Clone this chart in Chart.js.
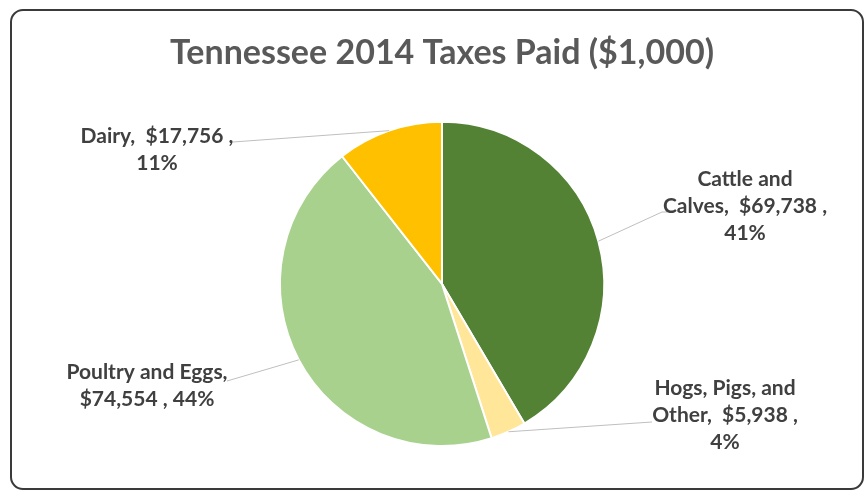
<!DOCTYPE html>
<html>
<head>
<meta charset="utf-8">
<script src="https://cdn.jsdelivr.net/npm/chart.js@4.4.1/dist/chart.umd.min.js"></script>
<style>
  html, body { margin: 0; padding: 0; background: #fff; }
  #wrap { width: 865px; height: 490px; }
</style>
</head>
<body>
<div id="wrap"><canvas id="taxes" width="865" height="490"></canvas></div>
<script>
// Tennessee 2014 farm taxes paid, in $1,000
const categories = ['Cattle and Calves', 'Hogs, Pigs, and Other', 'Poultry and Eggs', 'Dairy'];
const taxesPaid = [69738, 5938, 74554, 17756];
const percentLabels = ['41%', '4%', '44%', '11%'];
const sliceColors = ['#548235', '#FFE699', '#A9D18E', '#FFC000'];

const fmt = v => '$' + v.toLocaleString('en-US');

// how each callout wraps, where its text sits and where the leader bends
const callouts = [
  { lines: i => ['Cattle and', 'Calves,  ' + fmt(taxesPaid[i]) + ' ,', percentLabels[i]],
    x: 745, y: 179, path: [[662, 212], [667, 212]] },
  { lines: i => ['Hogs, Pigs, and', 'Other,  ' + fmt(taxesPaid[i]) + ' ,', percentLabels[i]],
    x: 725, y: 388, path: [[652, 422]] },
  { lines: i => ['Poultry and Eggs,', fmt(taxesPaid[i]) + ' , ' + percentLabels[i]],
    x: 147, y: 372, path: [[227, 381]] },
  { lines: i => ['Dairy,  ' + fmt(taxesPaid[i]) + ' ,', percentLabels[i]],
    x: 157, y: 136, path: [[233, 142]] }
];
const lineStep = 27;

const frame = {
  id: 'frame',
  beforeDraw(chart) {
    const ctx = chart.ctx;
    ctx.save();
    ctx.strokeStyle = '#3a3a3a';
    ctx.lineWidth = 2;
    ctx.beginPath();
    ctx.roundRect(11, 10, 852, 479, 12);
    ctx.stroke();
    ctx.restore();
  }
};

const calloutLabels = {
  id: 'calloutLabels',
  afterDatasetsDraw(chart) {
    const ctx = chart.ctx;
    const meta = chart.getDatasetMeta(0);
    ctx.save();
    meta.data.forEach((arc, i) => {
      const c = callouts[i];
      const p = arc.getProps(['x', 'y', 'startAngle', 'endAngle', 'outerRadius'], true);
      const mid = (p.startAngle + p.endAngle) / 2;
      const ax = p.x + Math.cos(mid) * p.outerRadius;
      const ay = p.y + Math.sin(mid) * p.outerRadius;
      ctx.strokeStyle = '#bfbfbf';
      ctx.lineWidth = 1;
      ctx.beginPath();
      ctx.moveTo(ax, ay);
      c.path.forEach(pt => ctx.lineTo(pt[0], pt[1]));
      ctx.stroke();

      ctx.fillStyle = '#404040';
      ctx.font = 'bold 21px Lato';
      ctx.textAlign = 'center';
      ctx.textBaseline = 'middle';
      c.lines(i).forEach((t, k) => ctx.fillText(t, c.x, c.y + k * lineStep));
    });
    ctx.restore();
  }
};

new Chart(document.getElementById('taxes'), {
  type: 'pie',
  data: {
    labels: categories,
    datasets: [{
      data: taxesPaid,
      backgroundColor: sliceColors,
      borderColor: '#ffffff',
      borderWidth: 2
    }]
  },
  options: {
    responsive: false,
    animation: false,
    layout: { padding: { left: 19, right: 0, top: 0, bottom: 43 } },
    plugins: {
      legend: { display: false },
      tooltip: { enabled: false },
      title: {
        display: true,
        text: 'Tennessee 2014 Taxes Paid ($1,000)',
        color: '#595959',
        font: { family: 'Lato', size: 34, weight: 'bold' },
        padding: { top: 33, bottom: 47 }
      }
    }
  },
  plugins: [frame, calloutLabels]
});
</script>
</body>
</html>
